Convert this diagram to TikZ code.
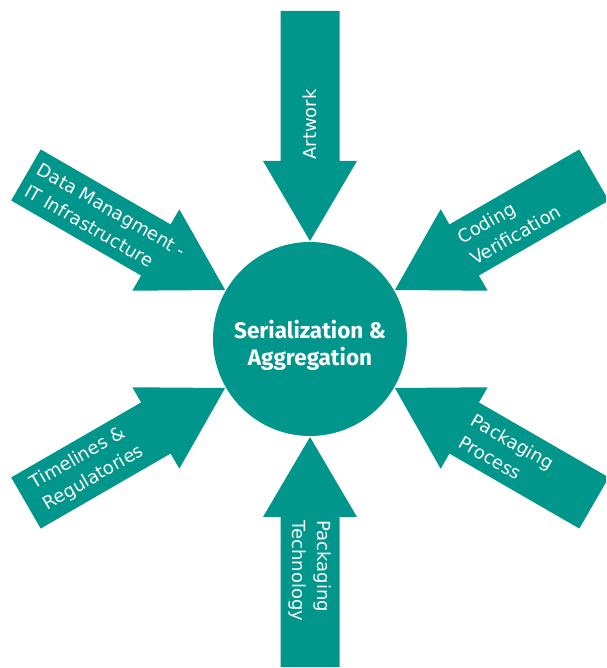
\documentclass[tikz,border=0pt]{standalone}
\usepackage{fontspec}
\setmainfont{DejaVu Sans}
\newfontfamily\hubfont{Fira Sans}
\usetikzlibrary{calc}
\definecolor{tealA}{RGB}{0,150,140}
\tikzset{
  arrowfill/.style={fill=tealA},
  lbl/.style={text=white, font=\fontsize{18}{25}\selectfont, align=left, inner sep=0pt},
  hubtext/.style={text=white, font=\hubfont\bfseries\fontsize{22.5}{27}\selectfont, align=center, inner sep=0pt},
  hubcircle/.style={circle, fill=tealA, minimum size=194pt, inner sep=0pt},
  bigarrow/.pic={\fill[arrowfill] (98pt,0pt) -- (178pt,47pt) -- (178pt,29.5pt) -- (328pt,29.5pt) -- (328pt,-29.5pt) -- (178pt,-29.5pt) -- (178pt,-47pt) -- cycle;}
}
\begin{document}
\begin{tikzpicture}[x=1pt,y=1pt]
\useasboundingbox (0,0) rectangle (606,668);
\clip (0,0) rectangle (606,668);
\coordinate (C) at (310,329);
\node[hubcircle] (hub) at (C) {};
\foreach \a in {90,150,210,270,330,30} { \pic[rotate=\a] at (C) {bigarrow}; }
\node[hubtext] (hublabel) at ($(hub.center)+(0,-6)$) {Serialization \&\\Aggregation};
\node[lbl, rotate=90] (artwork) at ($(C)+(90:214.5pt)$) {Artwork};
\node[lbl, rotate=-30] (datamgmt) at ($(C)+(150:236pt)$) {Data Managment -\\IT Infrastructure};
\node[lbl, rotate=30] (coding) at ($(C)+(30:230pt)$) {Coding\\Verification};
\node[lbl, rotate=30] (timelines) at ($(C)+(210:257pt)$) {Timelines \&\\Regulatories};
\node[lbl, rotate=-30] (packproc) at ($(C)+(330:227pt)$) {Packaging\\Process};
\node[lbl, rotate=-90] (packtech) at ($(C)+(270:232pt)$) {Packaging\\Technology};
\end{tikzpicture}
\end{document}
